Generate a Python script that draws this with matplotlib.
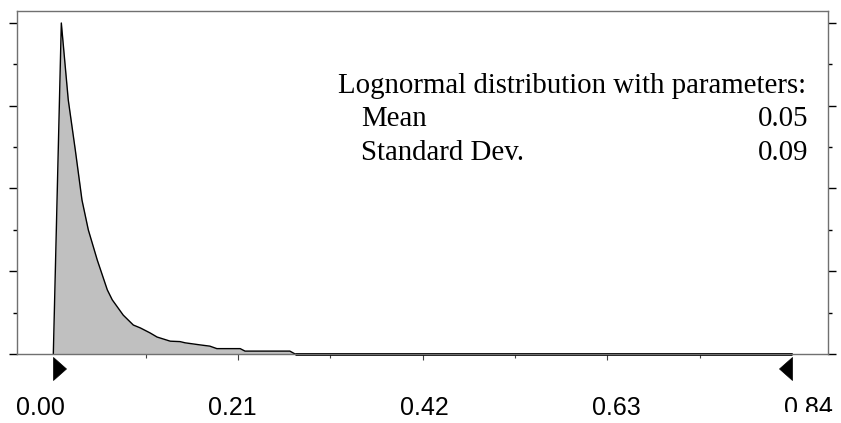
import matplotlib.pyplot as plt
import numpy as np
from matplotlib.path import Path
from matplotlib.patches import Rectangle


# Density curve of the fitted distribution (read at irregular x steps).
x_vals = [0.000, 0.0091, 0.017, 0.025, 0.0326, 0.0398, 0.050, 0.0614, 0.067,
          0.0795, 0.091, 0.099, 0.110, 0.118, 0.133, 0.144, 0.150, 0.167,
          0.178, 0.186, 0.2125, 0.218, 0.269, 0.275, 0.84]
density = [0.0, 8.0, 6.14, 4.93, 3.72, 3.0, 2.27, 1.55, 1.31,
           0.94, 0.70, 0.63, 0.51, 0.41, 0.31, 0.30, 0.27, 0.22,
           0.19, 0.13, 0.13, 0.07, 0.07, 0.0, 0.0]

range_min = 0.00
range_max = 0.84
tick_values = [0.00, 0.21, 0.42, 0.63, 0.84]

title_line = "Lognormal distribution with parameters:"
param_names = ["Mean", "Standard Dev."]
param_values = ["0.05", "0.09"]


def main():
    fig = plt.figure(figsize=(8.41, 4.23), dpi=100)
    ax = fig.add_axes([0.0199, 0.1631, 0.9643, 0.8116])
    ax.set_xlim(-0.0416, 0.8806)
    ax.set_ylim(0, 8.297)

    frame_gray = "#707070"
    for side in ["top", "left", "right", "bottom"]:
        ax.spines[side].set_color(frame_gray)
        ax.spines[side].set_linewidth(1.0)

    # filled density
    ax.fill_between(x_vals, density, 0, color="#c0c0c0", lw=0)
    ax.plot(x_vals, density, color="black", lw=1.0, clip_on=False)
    # zero tail drawn heavier along the axis
    ax.plot([x_vals[-2], x_vals[-1]], [0, 0], color="black", lw=2.0, clip_on=False,
            solid_capstyle="butt")

    # y ticks on both sides, no labels
    ax.set_yticks(np.arange(0, 9, 2))
    ax.set_yticks(np.arange(1, 9, 2), minor=True)
    ax.tick_params(axis="y", which="both", direction="out", left=True, right=True,
                   labelleft=False, labelright=False, color="black", width=1.0)
    ax.tick_params(axis="y", which="major", length=5.5)
    ax.tick_params(axis="y", which="minor", length=3.0)

    # x ticks: short marks, labels placed separately
    ax.set_xticks([0.21, 0.42, 0.63])
    ax.set_xticks([0.105, 0.315, 0.525, 0.735], minor=True)
    ax.tick_params(axis="x", which="both", direction="out", labelbottom=False,
                   color="#404040", width=0.8)
    ax.tick_params(axis="x", which="major", length=4.5)
    ax.tick_params(axis="x", which="minor", length=3.0)

    # range sliders at both ends
    right_tri = Path([(0, -3), (0, -26), (13, -14.5), (0, -3)],
                     [Path.MOVETO, Path.LINETO, Path.LINETO, Path.CLOSEPOLY])
    left_tri = Path([(0, -3), (0, -26), (-13, -14.5), (0, -3)],
                    [Path.MOVETO, Path.LINETO, Path.LINETO, Path.CLOSEPOLY])
    ax.plot([range_min], [0], marker=right_tri, markersize=37.4, color="black",
            mew=0.5, clip_on=False)
    ax.plot([range_max], [0], marker=left_tri, markersize=37.4, color="black",
            mew=0.5, clip_on=False)

    # tick labels spread a little wider than the axis values
    label_pos = np.array(tick_values) * (0.8733 / 0.84) - 0.0151
    for pos, val in zip(label_pos, tick_values):
        t = ax.text(pos, -0.1777, f"{val:.2f}", transform=ax.get_xaxis_transform(),
                    ha="center", va="baseline", fontsize=18,
                    family="Liberation Sans", clip_on=False)
        if val == tick_values[-1]:
            clip = Rectangle((0, 11.0 / 423), 1, 1, transform=fig.transFigure)
            t.set_clip_path(clip)
            t.set_clip_on(True)

    # parameter box text
    text_clip = Rectangle((0, 0), 0.9765, 1, transform=ax.transAxes)
    header = ax.text(0.396, 0.760, title_line, transform=ax.transAxes,
                     fontsize=20.8, family="Liberation Serif", va="baseline")
    header.set_clip_path(text_clip)
    rows_y = [0.664, 0.565]
    for name, val, y in zip(param_names, param_values, rows_y):
        ax.text(0.4245, y, name, transform=ax.transAxes, fontsize=20.8,
                family="Liberation Serif", va="baseline")
        ax.text(0.9765, y, val, transform=ax.transAxes, fontsize=20.8,
                family="Liberation Serif", va="baseline", ha="right")

    fig.savefig("out.png", dpi=100)


if __name__ == '__main__':
    main()
